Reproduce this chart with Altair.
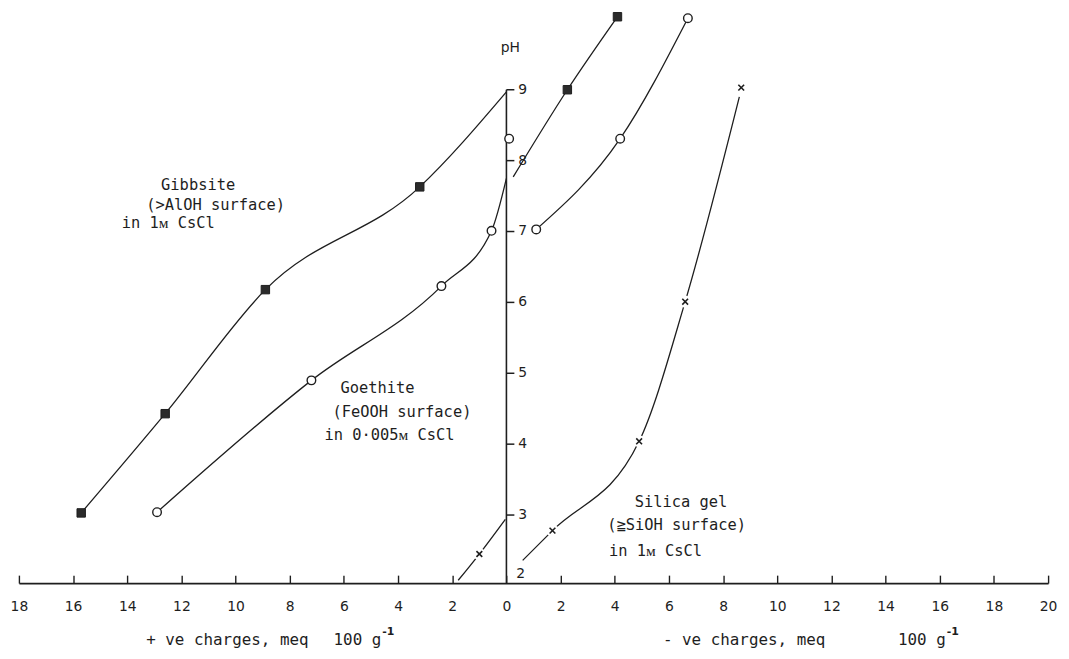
import altair as alt
import pandas as pd

# ---------------- values ----------------
# x = charge in meq 100 g-1 (negative side = "+ve charges", positive side = "-ve charges")
gibbsite_x = [-15.7, -12.6, -8.9, -3.2, 2.25, 4.1]
gibbsite_ph = [3.03, 4.43, 6.18, 7.63, 9.0, 10.03]
gibbsite_curve_a_x = [-15.7, -12.6, -8.9, -3.2, 0.0]
gibbsite_curve_a_ph = [3.03, 4.43, 6.18, 7.63, 8.97]
gibbsite_curve_b_x = [0.25, 2.25, 4.1]
gibbsite_curve_b_ph = [7.77, 9.0, 10.03]

goethite_x = [-12.9, -7.2, -2.4, -0.55, 0.1, 1.1, 4.2, 6.7]
goethite_ph = [3.04, 4.9, 6.23, 7.01, 8.31, 7.03, 8.31, 10.01]
goethite_curve_a_x = [-12.9, -7.2, -2.4, -0.55, 0.0]
goethite_curve_a_ph = [3.04, 4.9, 6.23, 7.01, 7.75]
goethite_curve_b_x = [1.1, 4.2, 6.7]
goethite_curve_b_ph = [7.03, 8.31, 10.01]

silica_x = [-1.0, 1.7, 4.9, 6.6, 8.67]
silica_ph = [2.45, 2.78, 4.04, 6.01, 9.03]
silica_curve_a_x = [-1.78, -1.0, -0.04]
silica_curve_a_ph = [2.08, 2.45, 2.94]
silica_curve_b_x = [0.6, 1.7, 4.9, 6.6, 8.6]
silica_curve_b_ph = [2.36, 2.78, 4.04, 6.01, 8.9]

x_tick_values = list(range(-18, 21, 2))
ph_tick_values = [2, 3, 4, 5, 6, 7, 8, 9]

annot_text = ["Gibbsite", "(>AlOH surface)", "in 1ᴍ CsCl",
              "Goethite", "(FeOOH surface)", "in 0·005ᴍ CsCl",
              "Silica gel", "(≧SiOH surface)", "in 1ᴍ CsCl"]
annot_x = [-12.75, -13.3, -14.2, -6.13, -6.42, -6.72, 4.74, 3.72, 3.79]
annot_ph = [7.66, 7.38, 7.12, 4.79, 4.46, 4.13, 3.19, 2.86, 2.49]

title_text = ["+ ve charges, meq", "- ve charges, meq"]
title_x = [-13.3, 5.78]
unit_text = ["100 g", "100 g"]
unit_x = [-4.62, 16.22]
unit_sup = ["-1", "-1"]
title_ph = 1.24

# ---------------- layout ----------------
W, H = 1037, 576
X_DOM = [-18, 20]
Y_DOM = [2.04, 10.105]
INK = "#1e1e1e"
FONT = "DejaVu Sans Mono"
NUMFONT = "DejaVu Sans"
TICK_LEN = 8 * (X_DOM[1] - X_DOM[0]) / W   # 8 px expressed in x units

xs = alt.Scale(domain=X_DOM, nice=False, zero=False)
ys = alt.Scale(domain=Y_DOM, nice=False, zero=False)

curves = []
for name, cx, cy in [
    ("gib_a", gibbsite_curve_a_x, gibbsite_curve_a_ph),
    ("gib_b", gibbsite_curve_b_x, gibbsite_curve_b_ph),
    ("goe_a", goethite_curve_a_x, goethite_curve_a_ph),
    ("goe_b", goethite_curve_b_x, goethite_curve_b_ph),
    ("sil_a", silica_curve_a_x, silica_curve_a_ph),
    ("sil_b", silica_curve_b_x, silica_curve_b_ph),
]:
    for i, (a, b) in enumerate(zip(cx, cy)):
        curves.append({"seg": name, "i": i, "x": a, "ph": b})
curves = pd.DataFrame(curves)

gib = pd.DataFrame({"x": gibbsite_x, "ph": gibbsite_ph})
goe = pd.DataFrame({"x": goethite_x, "ph": goethite_ph})
sil = pd.DataFrame({"x": silica_x, "ph": silica_ph})
annot = pd.DataFrame({"x": annot_x, "ph": annot_ph, "t": annot_text})
titles = pd.DataFrame({"x": title_x, "ph": [title_ph] * 2, "t": title_text})
units = pd.DataFrame({"x": unit_x, "ph": [title_ph] * 2, "t": unit_text, "s": unit_sup})
vaxis = pd.DataFrame({"x": [0], "lo": [Y_DOM[0]], "hi": [max(ph_tick_values)],
                      "lab": [str(ph_tick_values[0])], "labph": [ph_tick_values[0] + 0.17],
                      "ptitle": ["pH"], "pph": [9.59]})
pticks = pd.DataFrame({"x": [0] * (len(ph_tick_values) - 1),
                       "x2": [TICK_LEN] * (len(ph_tick_values) - 1),
                       "ph": ph_tick_values[1:],
                       "lab": [str(v) for v in ph_tick_values[1:]]})

bottom_axis = alt.Axis(orient="bottom", values=x_tick_values, labelExpr="abs(datum.value)",
                       ticks=False, domain=True, domainColor=INK, domainWidth=1.8,
                       labelPadding=17, labelFont=NUMFONT, labelFontSize=14, labelColor=INK,
                       labelFlush=False, labelOverlap=False, grid=False, title=None)
tick_axis = alt.Axis(orient="top", offset=-H, values=x_tick_values, labels=False,
                     domain=False, ticks=True, tickSize=8, tickWidth=1.4, tickColor=INK,
                     grid=False, title=None)

lines = alt.Chart(curves).mark_line(interpolate="monotone", color=INK, strokeWidth=1.3).encode(
    x=alt.X("x:Q", scale=xs, axis=bottom_axis),
    y=alt.Y("ph:Q", scale=ys, axis=None),
    detail="seg:N",
    order="i:Q",
)

vrule = alt.Chart(vaxis).mark_rule(color=INK, strokeWidth=1.6).encode(
    x=alt.X("x:Q", scale=xs, axis=None),
    y=alt.Y("lo:Q", scale=ys, axis=None),
    y2="hi:Q",
)
ptick = alt.Chart(pticks).mark_rule(color=INK, strokeWidth=1.5).encode(
    x=alt.X("x:Q", scale=xs, axis=None),
    x2="x2:Q",
    y=alt.Y("ph:Q", scale=ys, axis=None),
)
ptlab = alt.Chart(pticks).mark_text(align="left", baseline="middle", dx=12, font=NUMFONT,
                                    fontSize=14, color=INK).encode(
    x=alt.X("x:Q", scale=xs, axis=None),
    y=alt.Y("ph:Q", scale=ys, axis=None),
    text="lab:N",
)
vlab = alt.Chart(vaxis).mark_text(align="left", baseline="middle", dx=10, font=NUMFONT,
                                  fontSize=14, color=INK).encode(
    x=alt.X("x:Q", scale=xs, axis=None),
    y=alt.Y("labph:Q", scale=ys, axis=None),
    text="lab:N",
)
ptitle = alt.Chart(vaxis).mark_text(align="center", baseline="middle", dx=4, font=NUMFONT,
                                    fontSize=14, color=INK).encode(
    x=alt.X("x:Q", scale=xs, axis=None),
    y=alt.Y("pph:Q", scale=ys, axis=None),
    text="ptitle:N",
)

halo = alt.Chart(sil).mark_circle(size=150, color="white", opacity=1).encode(
    x=alt.X("x:Q", scale=xs, axis=None),
    y=alt.Y("ph:Q", scale=ys, axis=None),
)
sil_pts = alt.Chart(sil).mark_point(shape="M-1,-1L1,1M-1,1L1,-1", size=34, filled=False,
                                    stroke=INK, strokeWidth=1.6, opacity=1).encode(
    x=alt.X("x:Q", scale=xs, axis=None),
    y=alt.Y("ph:Q", scale=ys, axis=None),
)
gib_pts = alt.Chart(gib).mark_square(size=72, color="#2b2b2b", opacity=1,
                                     stroke=INK, strokeWidth=1).encode(
    x=alt.X("x:Q", scale=xs, axis=tick_axis),
    y=alt.Y("ph:Q", scale=ys, axis=None),
)
goe_pts = alt.Chart(goe).mark_point(shape="circle", size=75, filled=True, fill="white",
                                    stroke=INK, strokeWidth=1.4, opacity=1).encode(
    x=alt.X("x:Q", scale=xs, axis=None),
    y=alt.Y("ph:Q", scale=ys, axis=None),
)

ann = alt.Chart(annot).mark_text(align="left", baseline="middle", font=FONT, fontSize=15.5,
                                 color=INK).encode(
    x=alt.X("x:Q", scale=xs, axis=None),
    y=alt.Y("ph:Q", scale=ys, axis=None),
    text="t:N",
)
ttl = alt.Chart(titles).mark_text(align="left", baseline="middle", font=FONT, fontSize=16,
                                  color=INK).encode(
    x=alt.X("x:Q", scale=xs, axis=None),
    y=alt.Y("ph:Q", scale=ys, axis=None),
    text="t:N",
)
unit = alt.Chart(units).mark_text(align="right", baseline="middle", font=FONT, fontSize=16,
                                  color=INK).encode(
    x=alt.X("x:Q", scale=xs, axis=None),
    y=alt.Y("ph:Q", scale=ys, axis=None),
    text="t:N",
)
sup = alt.Chart(units).mark_text(align="left", baseline="middle", dx=1, dy=-8, font=NUMFONT,
                                 fontSize=11, fontWeight="bold", color=INK).encode(
    x=alt.X("x:Q", scale=xs, axis=None),
    y=alt.Y("ph:Q", scale=ys, axis=None),
    text="s:N",
)

chart = alt.layer(
    lines, vrule, ptick, ptlab, vlab, ptitle, halo, sil_pts, gib_pts, goe_pts,
    ann, ttl, unit, sup
).resolve_axis(x="independent").properties(
    width=W, height=H,
    autosize=alt.AutoSizeParams(type="none"),
    padding={"left": 11, "top": 1, "right": 13, "bottom": 70},
    background="white",
).configure_view(stroke=None)

chart.save("out.html", embed_options={"renderer": "svg", "actions": False})
